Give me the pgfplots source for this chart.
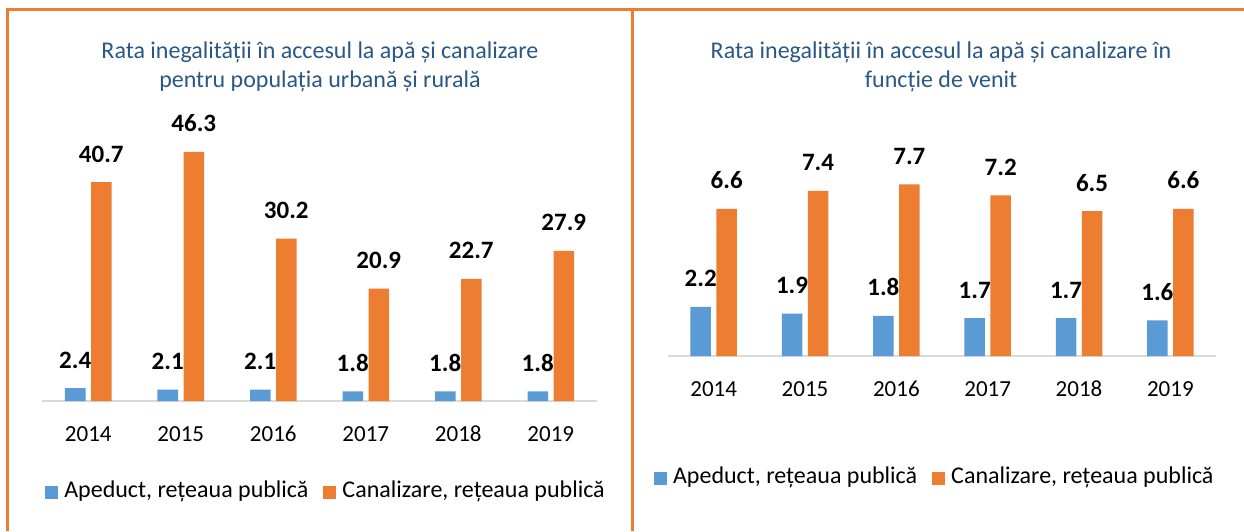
\documentclass[border=0pt]{standalone}
\usepackage{pgfplots}
\pgfplotsset{compat=1.18}
\usepackage{pgfplotstable}
\usepackage{fontspec}
\setmainfont{Carlito}
\definecolor{cblue}{HTML}{5B9BD5}
\definecolor{corange}{HTML}{ED7D31}
\definecolor{ctitle}{HTML}{2A5886}
\definecolor{caxis}{HTML}{D9D9D9}
\newcommand\ft[1]{\fontsize{#1}{#1}\selectfont}

\pgfplotstableread{
x apeduct canalizare
0 2.4 40.7
1 2.1 46.3
2 2.1 30.2
3 1.8 20.9
4 1.8 22.7
5 1.8 27.9
}\urbrur
\pgfplotstableread{
x apeduct canalizare
0 2.2 6.6
1 1.9 7.4
2 1.8 7.7
3 1.7 7.2
4 1.7 6.5
5 1.6 6.6
}\venit

\pgfplotsset{
  mybars/.style={
    ybar,
    scale only axis,
    xmin=-0.5, xmax=5.5, ymin=0,
    enlargelimits=false,
    clip=false,
    axis y line=none,
    axis x line*=bottom,
    axis line style={caxis, line width=2pt},
    xtick={0,1,2,3,4,5},
    xticklabels={2014,2015,2016,2017,2018,2019},
    major tick length=0pt,
    xtick style={draw=none},
    xticklabel style={font=\ft{23}, inner sep=0pt, anchor=base, yshift=-40pt},
    bar width=20.5pt,
    nodes near coords,
    /pgf/number format/.cd, fixed, precision=1, zerofill, assume math mode=true,
    /pgfplots/.cd,
    every node near coord/.append style={font=\ft{25}\bfseries, text=black, inner sep=0pt, anchor=base, yshift=20pt},
    legend columns=2,
    legend image code/.code={\fill[##1] (0pt,-1pt) rectangle (13pt,12pt);},
    legend style={draw=none, fill=none, font=\ft{24}, anchor=center, inner sep=0pt,
      nodes={inner sep=0pt, anchor=base west},
      /tikz/every odd column/.style={column sep=6pt},
      /tikz/every even column/.style={column sep=15pt}},
  }
}

\begin{document}
\begin{tikzpicture}
\path[use as bounding box] (0pt,0pt) rectangle (1244pt,-531pt);
\fill[white] (0pt,0pt) rectangle (1244pt,-531pt);
\draw[corange, line width=3pt] (7pt,-531pt) -- (7pt,-9.5pt) -- (1244pt,-9.5pt);
\draw[corange, line width=3pt] (632pt,-9.5pt) -- (632pt,-531pt);

% titles
\node[anchor=base, text=ctitle, font=\ft{24}] at (320pt,-58pt) {Rata inegalității în accesul la apă și canalizare};
\node[anchor=base, text=ctitle, font=\ft{24}] at (320pt,-87pt) {pentru populația urbană și rurală};
\node[anchor=base, text=ctitle, font=\ft{24}] at (941pt,-58pt) {Rata inegalității în accesul la apă și canalizare în};
\node[anchor=base, text=ctitle, font=\ft{24}] at (941pt,-87pt) {funcție de venit};

\begin{axis}[mybars,
  at={(42pt,-401pt)}, anchor=south west,
  width=555pt, height=269pt, ymax=50,
  legend style={at={(0.51,-0.331)}},
]
\addplot[fill=cblue, draw=none, bar shift=-13pt] table[x=x, y=apeduct] {\urbrur};
\addplot[fill=corange, draw=none, bar shift=13pt] table[x=x, y=canalizare] {\urbrur};
\legend{{Apeduct, rețeaua publică}, {Canalizare, rețeaua publică}}
\end{axis}

\begin{axis}[mybars,
  at={(668pt,-356pt)}, anchor=south west,
  width=548pt, height=223pt, ymax=10,
  legend style={at={(0.485,-0.538)}},
]
\addplot[fill=cblue, draw=none, bar shift=-13pt] table[x=x, y=apeduct] {\venit};
\addplot[fill=corange, draw=none, bar shift=13pt] table[x=x, y=canalizare] {\venit};
\legend{{Apeduct, rețeaua publică}, {Canalizare, rețeaua publică}}
\end{axis}
\end{tikzpicture}
\end{document}
